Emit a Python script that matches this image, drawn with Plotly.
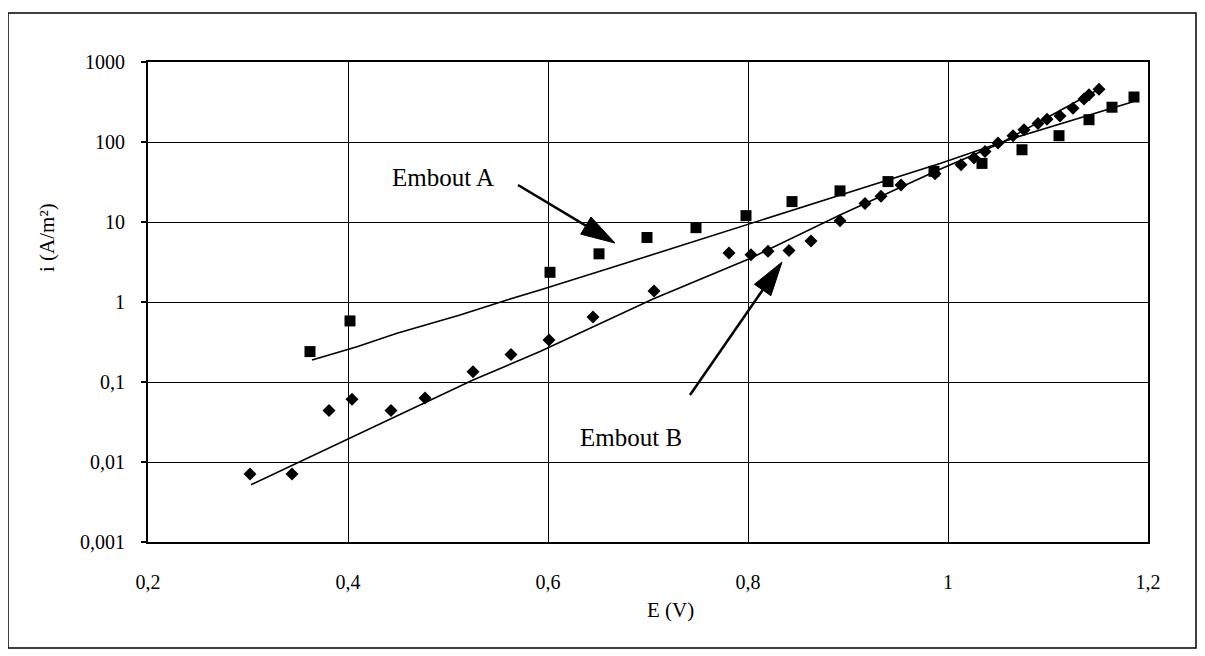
import numpy as np
import plotly.graph_objects as go

# ---- Data ----
# Embout A (squares)
eA = [0.362, 0.402, 0.602, 0.651, 0.699, 0.748, 0.798, 0.844, 0.892, 0.940,
      0.986, 1.034, 1.074, 1.111, 1.141, 1.164, 1.186]
iA = [0.24, 0.58, 2.35, 4.0, 6.4, 8.5, 12, 18, 24.5, 32,
      43, 54, 80, 120, 190, 272, 365]

# Embout B (diamonds)
eB = [0.302, 0.344, 0.381, 0.404, 0.443, 0.477, 0.525, 0.563, 0.601, 0.645,
      0.706, 0.781, 0.803, 0.820, 0.841, 0.863, 0.892, 0.917, 0.933, 0.953,
      0.987, 1.013, 1.026, 1.037, 1.050, 1.065, 1.076, 1.090, 1.099, 1.112,
      1.125, 1.136, 1.141, 1.151]
iB = [0.0071, 0.0071, 0.044, 0.061, 0.044, 0.063, 0.134, 0.22, 0.335, 0.65,
      1.37, 4.1, 3.9, 4.3, 4.4, 5.8, 10.4, 17, 21, 29,
      40, 52, 63, 76, 97, 120, 142, 170, 192, 211,
      265, 345, 390, 455]

# Fitted curves
fitA_e = [0.364, 0.409, 0.449, 0.512, 0.559, 0.592, 0.659, 0.802, 0.992, 1.067, 1.185]
fitA_i = [0.188, 0.276, 0.406, 0.688, 1.06, 1.41, 2.58, 9.6, 54, 113, 319]

fitB_e = [0.303, 0.352, 0.405, 0.482, 0.525, 0.592, 0.705, 0.802, 0.892, 0.992, 1.052, 1.150]
fitB_i = [0.0052, 0.0101, 0.0211, 0.0596, 0.106, 0.24, 1.09, 3.5, 12.2, 45.6, 96, 450]

x_ticks = [0.2, 0.4, 0.6, 0.8, 1.0, 1.2]
x_ticktext = ["0,2", "0,4", "0,6", "0,8", "1", "1,2"]
y_ticks = [0.001, 0.01, 0.1, 1, 10, 100, 1000]
y_ticktext = ["0,001", "0,01", "0,1", "1", "10", "100", "1000"]

# annotation anchor points (E, i)
labelA = (0.495, 35.5)
labelB = (0.683, 0.0205)
arrowA = ((0.570, 29.0), (0.667, 5.46))   # tail, tip
arrowB = ((0.742, 0.0688), (0.834, 3.16))

# ---- Layout geometry (page has an 8 px body offset) ----
OFF = 8
W, H = 1197, 648
PW, PH = 1000, 480
ML, MT = 148 - OFF, 62 - OFF
MR, MB = W - ML - PW, H - MT - PH
XR = (0.2, 1.2)
YR = (-3, 3)

FONT = "Liberation Serif, Times New Roman, serif"


def to_paper(e, i):
    return ((e - XR[0]) / (XR[1] - XR[0]), (np.log10(i) - YR[0]) / (YR[1] - YR[0]))


def page_to_paper(px, py):
    # page pixel coords -> paper coords
    return ((px - OFF - ML) / PW, (H - MB - (py - OFF)) / PH)


fig = go.Figure()

fig.add_trace(go.Scatter(x=fitA_e, y=fitA_i, mode="lines",
                         line=dict(color="black", width=1.6), showlegend=False))
fig.add_trace(go.Scatter(x=fitB_e, y=fitB_i, mode="lines",
                         line=dict(color="black", width=1.6), showlegend=False))
fig.add_trace(go.Scatter(x=eA, y=iA, mode="markers", name="Embout A",
                         marker=dict(symbol="square", size=11, color="black"),
                         showlegend=False))
fig.add_trace(go.Scatter(x=eB, y=iB, mode="markers", name="Embout B",
                         marker=dict(symbol="diamond", size=10, color="black"),
                         showlegend=False))

shapes = []
# outer frame
fx0, fy0 = page_to_paper(8, 648)
fx1, fy1 = page_to_paper(1196, 13)
shapes.append(dict(type="rect", xref="paper", yref="paper",
                   x0=fx0, x1=fx1, y0=fy0, y1=fy1,
                   line=dict(color="black", width=1.5), layer="below"))

# arrows: shaft + filled triangular head
for tail, tip in (arrowA, arrowB):
    tx, ty = to_paper(*tail)
    hx, hy = to_paper(*tip)
    p0 = np.array([tx * PW, ty * PH])
    p1 = np.array([hx * PW, hy * PH])
    d = p1 - p0
    d = d / np.linalg.norm(d)
    n = np.array([-d[1], d[0]])
    head_len, head_w = 34, 20
    base = p1 - d * head_len
    c1 = base + n * head_w / 2
    c2 = base - n * head_w / 2
    shapes.append(dict(type="line", xref="paper", yref="paper",
                       x0=p0[0] / PW, y0=p0[1] / PH,
                       x1=base[0] / PW, y1=base[1] / PH,
                       line=dict(color="black", width=2.5)))
    path = "M {:.5f},{:.5f} L {:.5f},{:.5f} L {:.5f},{:.5f} Z".format(
        p1[0] / PW, p1[1] / PH, c1[0] / PW, c1[1] / PH, c2[0] / PW, c2[1] / PH)
    shapes.append(dict(type="path", xref="paper", yref="paper", path=path,
                       fillcolor="black", line=dict(color="black", width=1)))

annotations = []
for txt, (e, i) in (("Embout A", labelA), ("Embout B", labelB)):
    px_, py_ = to_paper(e, i)
    annotations.append(dict(x=px_, y=py_, xref="paper", yref="paper", text=txt,
                            showarrow=False, xanchor="center", yanchor="middle",
                            font=dict(family=FONT, size=25, color="black")))

# axis titles
tx_, ty_ = page_to_paper(670, 610)
annotations.append(dict(x=tx_, y=ty_, xref="paper", yref="paper", text="E (V)",
                        showarrow=False, xanchor="center", yanchor="middle",
                        font=dict(family=FONT, size=21, color="black")))
tx_, ty_ = page_to_paper(47, 238)
annotations.append(dict(x=tx_, y=ty_, xref="paper", yref="paper", text="i (A/m²)",
                        showarrow=False, textangle=-90, xanchor="center", yanchor="middle",
                        font=dict(family=FONT, size=21, color="black")))

fig.update_layout(
    width=W, height=H,
    margin=dict(l=ML, r=MR, t=MT, b=MB, autoexpand=False),
    paper_bgcolor="white", plot_bgcolor="white",
    font=dict(family=FONT, size=20, color="black"),
    shapes=shapes, annotations=annotations, showlegend=False,
)
fig.update_xaxes(range=list(XR), tickvals=x_ticks, ticktext=x_ticktext,
                 showgrid=True, gridcolor="black", gridwidth=1,
                 showline=True, linecolor="black", linewidth=2, mirror=True,
                 ticks="", ticklabelstandoff=21, zeroline=False,
                 tickfont=dict(family=FONT, size=20, color="black"))
fig.update_yaxes(type="log", range=list(YR), tickvals=y_ticks, ticktext=y_ticktext,
                 showgrid=True, gridcolor="black", gridwidth=1,
                 showline=True, linecolor="black", linewidth=2, mirror=True,
                 ticks="outside", ticklen=5, tickcolor="black", tickwidth=1.5,
                 ticklabelstandoff=12, zeroline=False,
                 tickfont=dict(family=FONT, size=20, color="black"))

fig.write_html("out.html")
